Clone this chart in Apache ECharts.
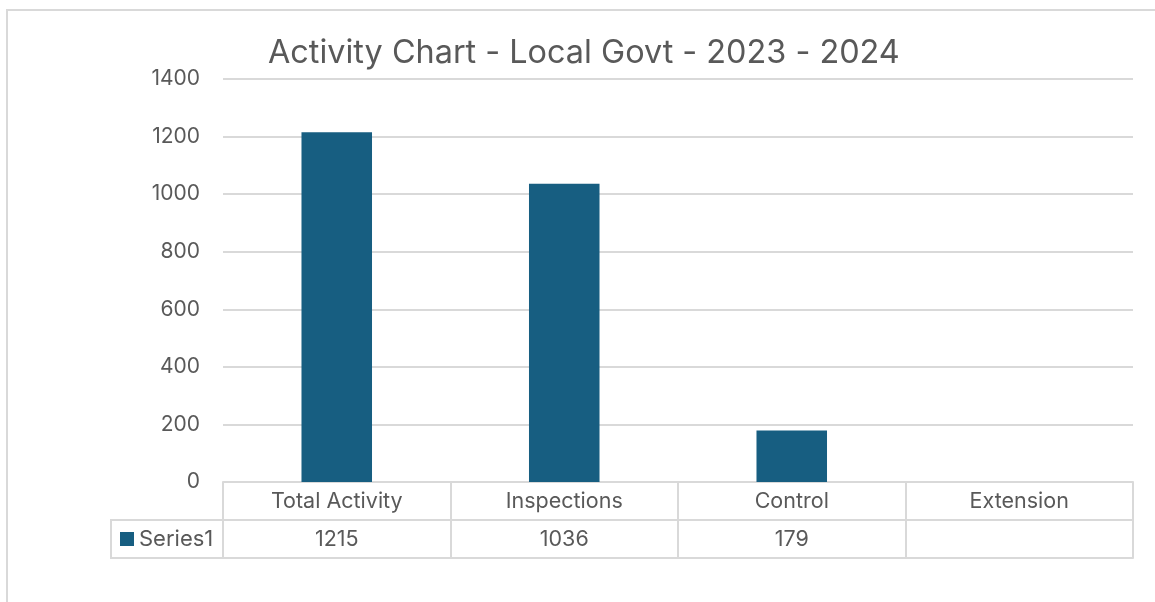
<!DOCTYPE html>
<html>
<head>
<meta charset="utf-8">
<script src="https://cdn.jsdelivr.net/npm/echarts@6/dist/echarts.min.js"></script>
<style>
html,body{margin:0;padding:0;background:#fff;}
#chart{width:1155px;height:602px;}
</style>
</head>
<body>
<div id="chart"></div>
<script>
const title = 'Activity Chart - Local Govt - 2023 - 2024';
const categories = ['Total Activity', 'Inspections', 'Control', 'Extension'];
const seriesName = 'Series1';
const seriesValues = [1215, 1036, 179, null];
const yMin = 0, yMax = 1400, yStep = 200;

const textColor = '#595959';
const lineColor = '#d9d9d9';
const barColor = '#175e81';
const font = 'Inter';

const chart = echarts.init(document.getElementById('chart'), null, {renderer: 'canvas'});
const option = {
  backgroundColor: '#ffffff',
  animation: false,
  textStyle: {fontFamily: font},
  title: {
    text: title,
    left: 263,
    top: 32,
    textStyle: {fontFamily: font, fontSize: 32.4, fontWeight: 'normal', color: textColor}
  },
  legend: {
    show: true,
    data: [seriesName],
    left: 120,
    top: 528,
    padding: 0,
    itemWidth: 14,
    itemHeight: 14,
    icon: 'rect',
    textStyle: {fontFamily: font, fontSize: 22, color: textColor}
  },
  graphic: [
    {type: 'rect', silent: true, z: 0, shape: {x: 7, y: 10, width: 1300, height: 800},
     style: {fill: 'none', stroke: lineColor, lineWidth: 2}},
    {type: 'rect', silent: true, z: 10, shape: {x: 111, y: 520, width: 112, height: 38},
     style: {fill: 'none', stroke: lineColor, lineWidth: 2}}
  ],
  grid: {left: 223, right: 22, top: 79, bottom: 120, containLabel: false},
  xAxis: [
    {
      type: 'category', data: categories, position: 'bottom',
      axisLine: {show: true, lineStyle: {color: lineColor, width: 2}},
      axisTick: {show: true, length: 76, interval: 0, lineStyle: {color: lineColor, width: 2}},
      axisLabel: {interval: 0, margin: 9, fontFamily: font, fontSize: 21.5, color: textColor}
    },
    {
      type: 'category', data: categories, position: 'bottom', offset: 38,
      axisLine: {show: true, lineStyle: {color: lineColor, width: 2}},
      axisTick: {show: false},
      axisLabel: {interval: 0, margin: 9, fontFamily: font, fontSize: 21.5, color: textColor,
        formatter: function (v, i) { return seriesValues[i] == null ? '' : String(seriesValues[i]); }}
    },
    {
      type: 'category', data: categories, position: 'bottom', offset: 76,
      axisLine: {show: true, lineStyle: {color: lineColor, width: 2}},
      axisTick: {show: false},
      axisLabel: {show: false}
    }
  ],
  yAxis: {
    type: 'value', min: yMin, max: yMax, interval: yStep,
    axisLine: {show: false}, axisTick: {show: false},
    axisLabel: {margin: 23, fontFamily: font, fontSize: 21, color: textColor,
      formatter: function (v) { return String(v); }},
    splitLine: {show: true, lineStyle: {color: lineColor, width: 2}}
  },
  series: [{
    name: seriesName,
    type: 'bar',
    xAxisIndex: 0,
    data: seriesValues,
    barWidth: '31%',
    itemStyle: {color: barColor}
  }]
};
chart.setOption(option);
</script>
</body>
</html>
